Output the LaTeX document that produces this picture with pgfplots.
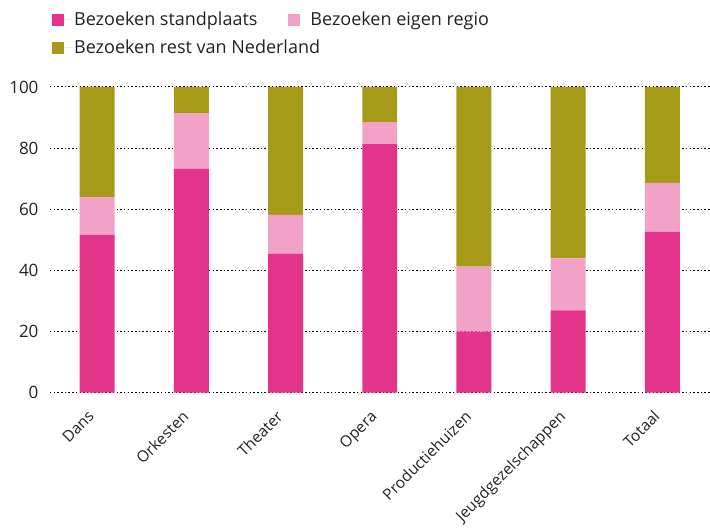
\documentclass[border=0pt]{standalone}
\usepackage{fontspec}
\setmainfont{Open Sans}
\usepackage{pgfplots}
\pgfplotsset{compat=1.18}
\definecolor{c1}{HTML}{E4338A}
\definecolor{c2}{HTML}{F2A2C6}
\definecolor{c3}{HTML}{A69A19}
\definecolor{txt}{HTML}{222222}
\pgfplotsset{
  mylegend/.style={
    legend style={draw=none, fill=none, font=\fontsize{18}{21}\selectfont, text=txt,
      /tikz/every even column/.append style={column sep=29pt}},
    legend cell align=left,
    area legend,
    legend image code/.code={\fill[##1] (0pt,-6pt) rectangle (12pt,6pt); \path (0pt,0pt) -- (20pt,0pt);},
  }
}
\begin{document}
\begin{tikzpicture}
\begin{axis}[
  name=main,
  scale only axis, width=660pt, height=306pt,
  ybar stacked, bar width=35pt,
  xmin=-0.5, xmax=6.5, ymin=0, ymax=100,
  axis line style={draw=none},
  xtick=data,
  xticklabels={Dans,Orkesten,Theater,Opera,Productiehuizen,Jeugdgezelschappen,Totaal},
  x tick label style={xshift=-10pt, yshift=-12pt, rotate=45, anchor=north east, font=\fontsize{15.5}{18}\selectfont, text=txt},
  ytick={0,20,...,100},
  y tick label style={font=\fontsize{17}{20}\selectfont, text=txt, xshift=-8pt},
  /pgf/number format/assume math mode=true,
  ymajorgrids, grid style={black, line width=1pt, dash pattern=on 1.5pt off 2.2pt},
  major tick length=0pt,
  mylegend,
  legend columns=-1,
  legend style={at={(rel axis cs:0,1)}, anchor=north west, xshift=-1pt, yshift=79pt},
]
\addplot[fill=c1, draw=none] coordinates {(0,51.6) (1,73.2) (2,45.5) (3,81.3) (4,20.0) (5,26.9) (6,52.6)};
\addplot[fill=c2, draw=none] coordinates {(0,12.4) (1,18.2) (2,12.7) (3,7.2) (4,21.2) (5,17.0) (6,16.0)};
\addplot[fill=c3, draw=none, forget plot] coordinates {(0,36.0) (1,8.6) (2,41.8) (3,11.5) (4,58.8) (5,56.1) (6,31.4)};
\legend{Bezoeken standplaats, Bezoeken eigen regio}
\end{axis}
\begin{axis}[
  scale only axis, width=660pt, height=306pt,
  hide axis, xmin=0, xmax=1, ymin=0, ymax=1,
  mylegend,
  legend style={at={(rel axis cs:0,1)}, anchor=north west, xshift=-1pt, yshift=51pt},
]
\addlegendimage{fill=c3, draw=none}
\addlegendentry{Bezoeken rest van Nederland}
\end{axis}
\path (main.north west) -- ++(0,87pt);
\path (main.south west) -- ++(-50pt,0pt);
\end{tikzpicture}
\end{document}
